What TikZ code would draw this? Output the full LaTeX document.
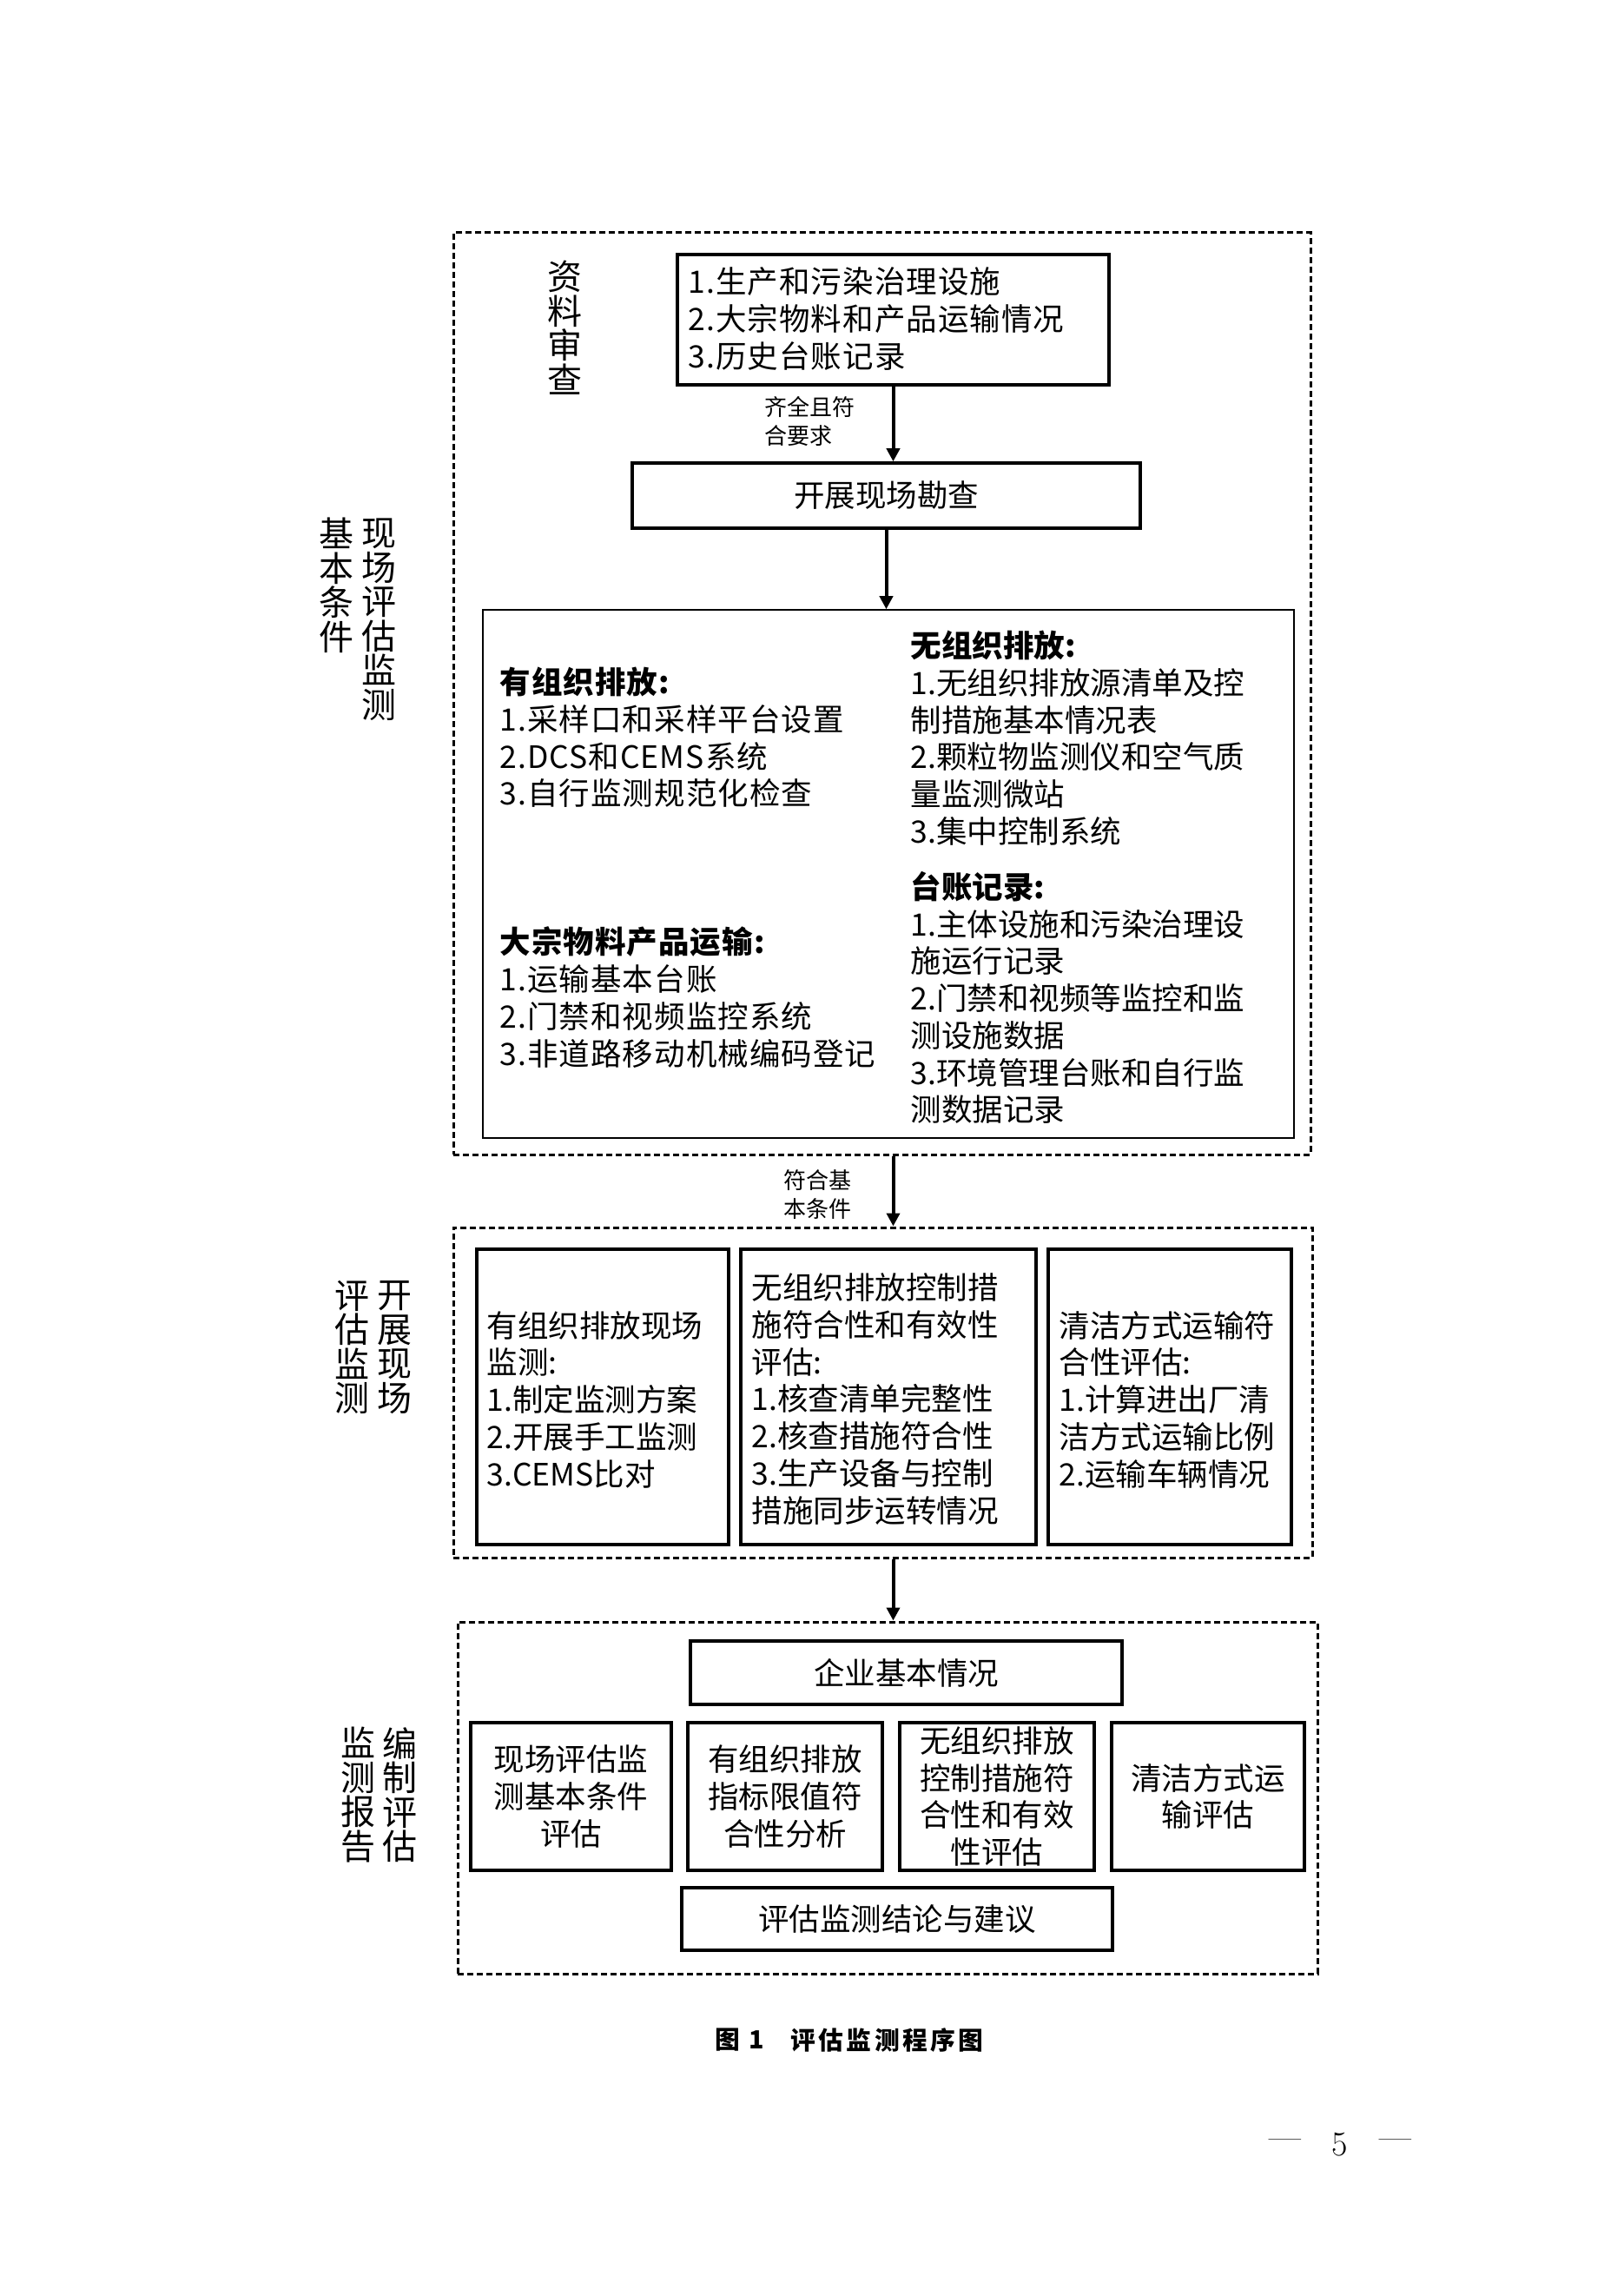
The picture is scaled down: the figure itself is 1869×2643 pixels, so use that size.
\documentclass[tikz,border=0pt]{standalone}
\usepackage{fontspec}
\usetikzlibrary{arrows.meta}
\newfontfamily\cjk{Noto Sans CJK SC}
\newfontfamily\cjkw[LetterSpace=3]{Noto Sans CJK SC}
\newfontfamily\cjkc[LetterSpace=12]{Noto Sans CJK SC}
\begin{document}
\begin{tikzpicture}[x=0.4pt,y=-0.4pt,
  dbox/.style={draw, line width=1.2pt, dash pattern=on 2.8pt off 1.6pt, inner sep=0pt},
  sbox/.style={draw, line width=1.4pt, inner sep=0pt, align=center, font=\cjk\fontsize{14.2pt}{17.1pt}\selectfont},
  tbox/.style={draw, line width=0.6pt, inner sep=0pt},
  body/.style={font=\cjk\fontsize{14.2pt}{17.1pt}\selectfont, inner sep=0pt, align=left, anchor=west},
  bodyw/.style={font=\cjkw\fontsize{14.2pt}{17.1pt}\selectfont, inner sep=0pt, align=left, anchor=west},
  vlab/.style={font=\cjk\fontsize{16pt}{15.8pt}\selectfont, inner sep=0pt, align=center},
  small/.style={font=\cjk\fontsize{10.4pt}{13.2pt}\selectfont, inner sep=0pt, align=left, anchor=west},
  arr/.style={line width=1.6pt, -{Triangle[length=6pt,width=6pt]}},
  pgn/.style={inner sep=0pt, font=\fontsize{16pt}{16pt}\selectfont}
]
\useasboundingbox (0,0) rectangle (1869,2643);

% ---------- section 1 ----------
\node[dbox, minimum width=394.8pt, minimum height=424.4pt] (S1) at (1015.5,798.5) {};
\node[vlab] (S1r) at (436,713) {现\\场\\评\\估\\监\\测};
\node[vlab] (S1l) at (387,674) {基\\本\\条\\件};
\node[vlab] (rev) at (650,377) {资\\料\\审\\查};
\node[sbox, minimum width=198.8pt, minimum height=60pt] (A) at (1028.5,368) {};
\node[bodyw] (At) at (792,367) {1.生产和污染治理设施\\2.大宗物料和产品运输情况\\3.历史台账记录};
\node[sbox, minimum width=234pt, minimum height=30pt] (B) at (1020.5,570.5) {开展现场勘查};
\node[tbox, minimum width=373.6pt, minimum height=243.2pt] (C) at (1023,1006) {};
\node[bodyw] (C1) at (575,849) {{\bfseries 有组织排放:}\\1.采样口和采样平台设置\\2.DCS和CEMS系统\\3.自行监测规范化检查};
\node[bodyw] (C2) at (575,1148) {{\bfseries 大宗物料产品运输:}\\1.运输基本台账\\2.门禁和视频监控系统\\3.非道路移动机械编码登记};
\node[body] (C3) at (1048,849.5) {{\bfseries 无组织排放:}\\1.无组织排放源清单及控\\制措施基本情况表\\2.颗粒物监测仪和空气质\\量监测微站\\3.集中控制系统};
\node[body] (C4) at (1048,1148.5) {{\bfseries 台账记录:}\\1.主体设施和污染治理设\\施运行记录\\2.门禁和视频等监控和监\\测设施数据\\3.环境管理台账和自行监\\测数据记录};
\node[small] (l1) at (880,485.5) {齐全且符\\合要求};
\draw[arr] (A.south) -- (A.south |- B.north);
\draw[arr] (B.south) -- (B.south |- C.north);

% ---------- section 2 ----------
\node[dbox, minimum width=395.6pt, minimum height=152pt] (S2) at (1016.5,1603) {};
\node[small] (l2) at (902,1375) {符合基\\本条件};
\draw[arr] (A.south |- S1.south) -- (A.south |- S2.north);
\node[vlab] (S2r) at (454,1551) {开\\展\\现\\场};
\node[vlab] (S2l) at (405,1551) {评\\估\\监\\测};
\node[sbox, minimum width=116pt, minimum height=136pt] (P1) at (694,1608) {};
\node[sbox, minimum width=136pt, minimum height=136pt] (P2) at (1023,1608) {};
\node[sbox, minimum width=112pt, minimum height=136pt] (P3) at (1347,1608) {};
\node[body] (P1t) at (560,1611) {有组织排放现场\\监测:\\1.制定监测方案\\2.开展手工监测\\3.CEMS比对};
\node[body] (P2t) at (865,1610.5) {无组织排放控制措\\施符合性和有效性\\评估:\\1.核查清单完整性\\2.核查措施符合性\\3.生产设备与控制\\措施同步运转情况};
\node[body] (P3t) at (1219,1611) {清洁方式运输符\\合性评估:\\1.计算进出厂清\\洁方式运输比例\\2.运输车辆情况};

% ---------- section 3 ----------
\node[dbox, minimum width=396pt, minimum height=162pt] (S3) at (1022,2069.5) {};
\draw[arr] (A.south |- S2.south) -- (A.south |- S3.north);
\node[vlab] (S3r) at (460,2066) {编\\制\\评\\估};
\node[vlab] (S3l) at (412,2066) {监\\测\\报\\告};
\node[sbox, minimum width=198.8pt, minimum height=29.2pt] (Q0) at (1043.5,1925.5) {企业基本情况};
\node[sbox, minimum width=92.4pt, minimum height=68pt] (Q1) at (657.5,2068) {现场评估监\\测基本条件\\评估};
\node[sbox, minimum width=89.6pt, minimum height=68pt] (Q2) at (904,2068) {有组织排放\\指标限值符\\合性分析};
\node[sbox, minimum width=89.6pt, minimum height=68pt] (Q3) at (1148,2068) {无组织排放\\控制措施符\\合性和有效\\性评估};
\node[sbox, minimum width=88.8pt, minimum height=68pt] (Q4) at (1391,2068) {清洁方式运\\输评估};
\node[sbox, minimum width=198.4pt, minimum height=28.8pt] (Q5) at (1033,2209) {评估监测结论与建议};

% ---------- caption and page number ----------
\node[font=\cjkc\bfseries\fontsize{11.5pt}{13pt}\selectfont, inner sep=0pt, anchor=west] (cap1) at (823,2348) {图 1};
\node[font=\cjkc\bfseries\fontsize{11.5pt}{13pt}\selectfont, inner sep=0pt, anchor=west] (cap2) at (910,2348) {评估监测程序图};
\node[pgn] (pg1) at (1480,2468) {\textemdash};
\node[pgn] (pg) at (1543,2468.5) {5};
\node[pgn] (pg2) at (1607,2468) {\textemdash};
\end{tikzpicture}
\end{document}
